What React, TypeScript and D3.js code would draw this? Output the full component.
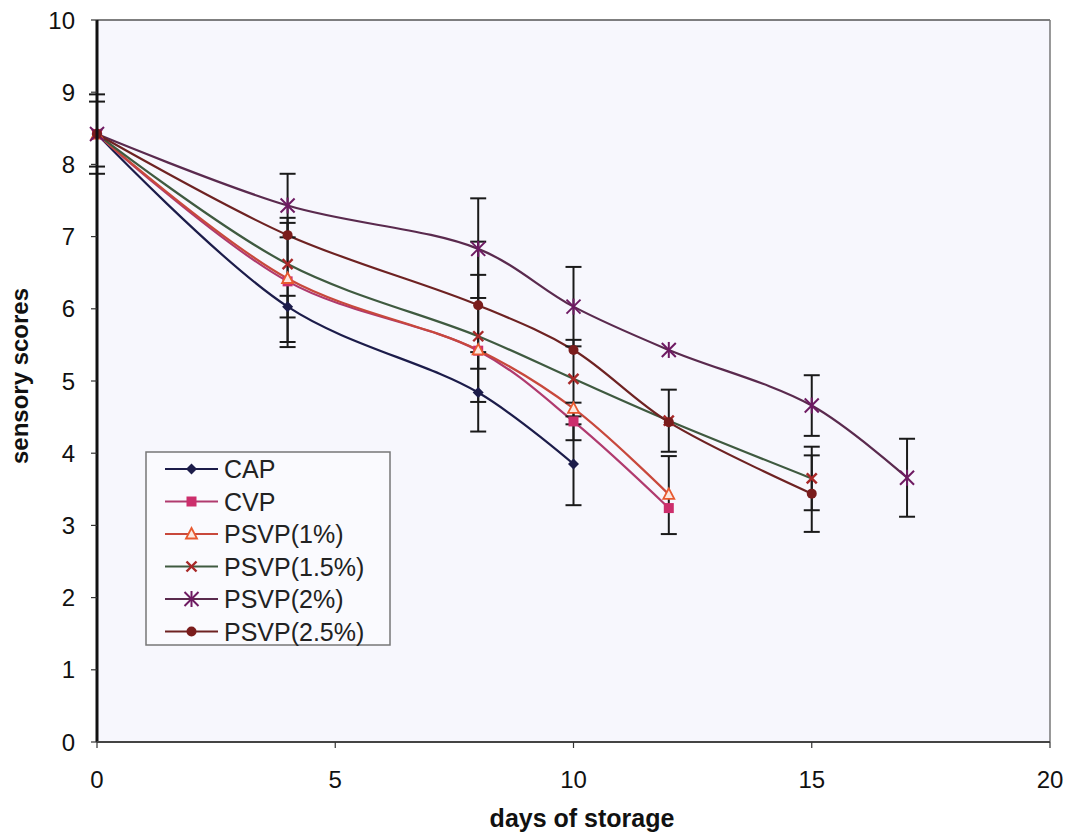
import React from "react";
import * as d3 from "d3";

const xTicks = [0, 5, 10, 15, 20];
const yTicks = [0, 1, 2, 3, 4, 5, 6, 7, 8, 9, 10];

const seriesNames = ["CAP", "CVP", "PSVP(1%)", "PSVP(1.5%)", "PSVP(2%)", "PSVP(2.5%)"];

const capDays = [0, 4, 8, 10];
const capValues = [8.42, 6.03, 4.84, 3.85];
const cvpDays = [0, 4, 8, 10, 12];
const cvpValues = [8.42, 6.38, 5.42, 4.44, 3.24];
const psvp1Days = [0, 4, 8, 10, 12];
const psvp1Values = [8.42, 6.42, 5.43, 4.62, 3.43];
const psvp15Days = [0, 4, 8, 10, 12, 15];
const psvp15Values = [8.42, 6.62, 5.62, 5.03, 4.45, 3.65];
const psvp2Days = [0, 4, 8, 10, 12, 15, 17];
const psvp2Values = [8.42, 7.43, 6.83, 6.03, 5.43, 4.66, 3.66];
const psvp25Days = [0, 4, 8, 10, 12, 15];
const psvp25Values = [8.42, 7.02, 6.05, 5.43, 4.43, 3.44];

// error bars: day, centre value, half-width
const errDays = [0, 0, 4, 4, 4, 4, 8, 8, 8, 8, 10, 10, 10, 10, 12, 12, 15, 15, 15, 17];
const errCenters = [8.42, 8.42, 7.43, 6.4, 6.33, 6.03, 6.84, 6.05, 5.59, 4.85, 6.03, 5.04, 4.44, 3.84, 4.45, 3.42, 4.66, 3.65, 3.44, 3.66];
const errHalf = [0.55, 0.45, 0.44, 0.86, 0.86, 0.15, 0.69, 0.88, 0.88, 0.55, 0.55, 0.53, 0.26, 0.56, 0.43, 0.54, 0.42, 0.44, 0.53, 0.54];

const lineColors = ["#1c1c4a", "#b03a6e", "#c8483c", "#3f5a40", "#5a2a4e", "#6e2222"];
const markerColors = ["#1c1c4a", "#cc2e6c", "#e85a30", "#a82828", "#6e1a62", "#7a1c1c"];
const markerTypes = ["diamond", "square", "triangle", "x", "asterisk", "circle"];

const W = 1073;
const H = 839;
const left = 97;
const right = 1050;
const top = 20;
const bottom = 742;

function Marker({ type, x, y, color }: { type: string; x: number; y: number; color: string }) {
  const s = 5.5;
  if (type === "diamond") {
    return <path d={`M${x},${y - s} L${x + s},${y} L${x},${y + s} L${x - s},${y} Z`} fill={color} />;
  }
  if (type === "square") {
    return <rect x={x - 5} y={y - 5} width={10} height={10} fill={color} />;
  }
  if (type === "triangle") {
    return <path d={`M${x},${y - 6} L${x + 5.5},${y + 4.5} L${x - 5.5},${y + 4.5} Z`} fill="#fbe8e0" stroke={color} strokeWidth={1.8} />;
  }
  if (type === "x") {
    return (
      <g stroke={color} strokeWidth={2.4}>
        <line x1={x - 5} y1={y - 5} x2={x + 5} y2={y + 5} />
        <line x1={x - 5} y1={y + 5} x2={x + 5} y2={y - 5} />
      </g>
    );
  }
  if (type === "asterisk") {
    return (
      <g stroke={color} strokeWidth={2}>
        <line x1={x - 7} y1={y - 7} x2={x + 7} y2={y + 7} />
        <line x1={x - 7} y1={y + 7} x2={x + 7} y2={y - 7} />
        <line x1={x} y1={y - 8} x2={x} y2={y + 8} />
      </g>
    );
  }
  return <circle cx={x} cy={y} r={5} fill={color} />;
}

export default function App() {
  const xScale = d3.scaleLinear().domain([0, 20]).range([left, right]);
  const yScale = d3.scaleLinear().domain([0, 10]).range([bottom, top]);

  const allDays = [capDays, cvpDays, psvp1Days, psvp15Days, psvp2Days, psvp25Days];
  const allValues = [capValues, cvpValues, psvp1Values, psvp15Values, psvp2Values, psvp25Values];

  const line = d3
    .line<[number, number]>()
    .x((d) => xScale(d[0]))
    .y((d) => yScale(d[1]))
    .curve(d3.curveCatmullRom.alpha(0.5));

  const legendX = 146;
  const legendY = 452;
  const legendRow = 32.5;

  const font = "'Liberation Sans', Arial, sans-serif";

  return (
    <svg width={W} height={H} style={{ position: "absolute", left: 0, top: 0, background: "#fff" }}>
      <rect x={0} y={0} width={W} height={H} fill="#ffffff" />
      <rect x={left} y={top} width={right - left} height={bottom - top} fill="#f7f7fd" />
      {/* top and right border */}
      <line x1={left} y1={top} x2={right} y2={top} stroke="#555" strokeWidth={1.5} />
      <line x1={right} y1={top} x2={right} y2={bottom} stroke="#777" strokeWidth={1.5} />

      {/* series lines */}
      {allDays.map((days, i) => (
        <path
          key={"l" + i}
          d={line(days.map((d, j) => [d, allValues[i][j]] as [number, number])) || ""}
          fill="none"
          stroke={lineColors[i]}
          strokeWidth={2.2}
        />
      ))}

      {/* error bars */}
      {errDays.map((d, i) => {
        const x = xScale(d);
        const y1 = yScale(errCenters[i] + errHalf[i]);
        const y2 = yScale(errCenters[i] - errHalf[i]);
        return (
          <g key={"e" + i} stroke="#1a1a1a" strokeWidth={2}>
            <line x1={x} y1={y1} x2={x} y2={y2} />
            <line x1={x - 8} y1={y1} x2={x + 8} y2={y1} />
            <line x1={x - 8} y1={y2} x2={x + 8} y2={y2} />
          </g>
        );
      })}

      {/* markers */}
      {allDays.map((days, i) =>
        days.map((d, j) => (
          <Marker key={"m" + i + "-" + j} type={markerTypes[i]} x={xScale(d)} y={yScale(allValues[i][j])} color={markerColors[i]} />
        ))
      )}

      {/* axes */}
      <line x1={left} y1={top} x2={left} y2={bottom} stroke="#111" strokeWidth={3} />
      <line x1={left} y1={bottom} x2={right} y2={bottom} stroke="#444" strokeWidth={2} />
      {yTicks.map((t) => (
        <g key={"yt" + t}>
          <line x1={left - 6} y1={yScale(t)} x2={left} y2={yScale(t)} stroke="#333" strokeWidth={1.2} />
          <text x={left - 22} y={yScale(t)} textAnchor="end" dominantBaseline="central" fontFamily={font} fontSize={24} fill="#111">
            {t}
          </text>
        </g>
      ))}
      {xTicks.map((t) => (
        <g key={"xt" + t}>
          <line x1={xScale(t)} y1={bottom} x2={xScale(t)} y2={bottom + 6} stroke="#333" strokeWidth={1.2} />
          <text x={xScale(t)} y={779} textAnchor="middle" dominantBaseline="central" fontFamily={font} fontSize={24} fill="#111">
            {t}
          </text>
        </g>
      ))}
      <text x={582} y={818} textAnchor="middle" dominantBaseline="central" fontFamily={font} fontSize={25} fontWeight="bold" fill="#111">
        days of storage
      </text>
      <text
        transform={`translate(19, ${(top + bottom) / 2 - 5}) rotate(-90)`}
        textAnchor="middle"
        dominantBaseline="central"
        fontFamily={font}
        fontSize={24}
        fontWeight="bold"
        fill="#111"
      >
        sensory scores
      </text>

      {/* legend */}
      <rect x={legendX} y={legendY} width={244} height={193} fill="#fafafe" stroke="#777" strokeWidth={1.5} />
      {seriesNames.map((name, i) => {
        const y = legendY + 17 + i * legendRow;
        return (
          <g key={"lg" + i}>
            <line x1={165} y1={y} x2={218} y2={y} stroke={lineColors[i]} strokeWidth={2.2} />
            <Marker type={markerTypes[i]} x={191.5} y={y} color={markerColors[i]} />
            <text x={224} y={y} dominantBaseline="central" fontFamily={font} fontSize={25} fill="#222">
              {name}
            </text>
          </g>
        );
      })}
    </svg>
  );
}
